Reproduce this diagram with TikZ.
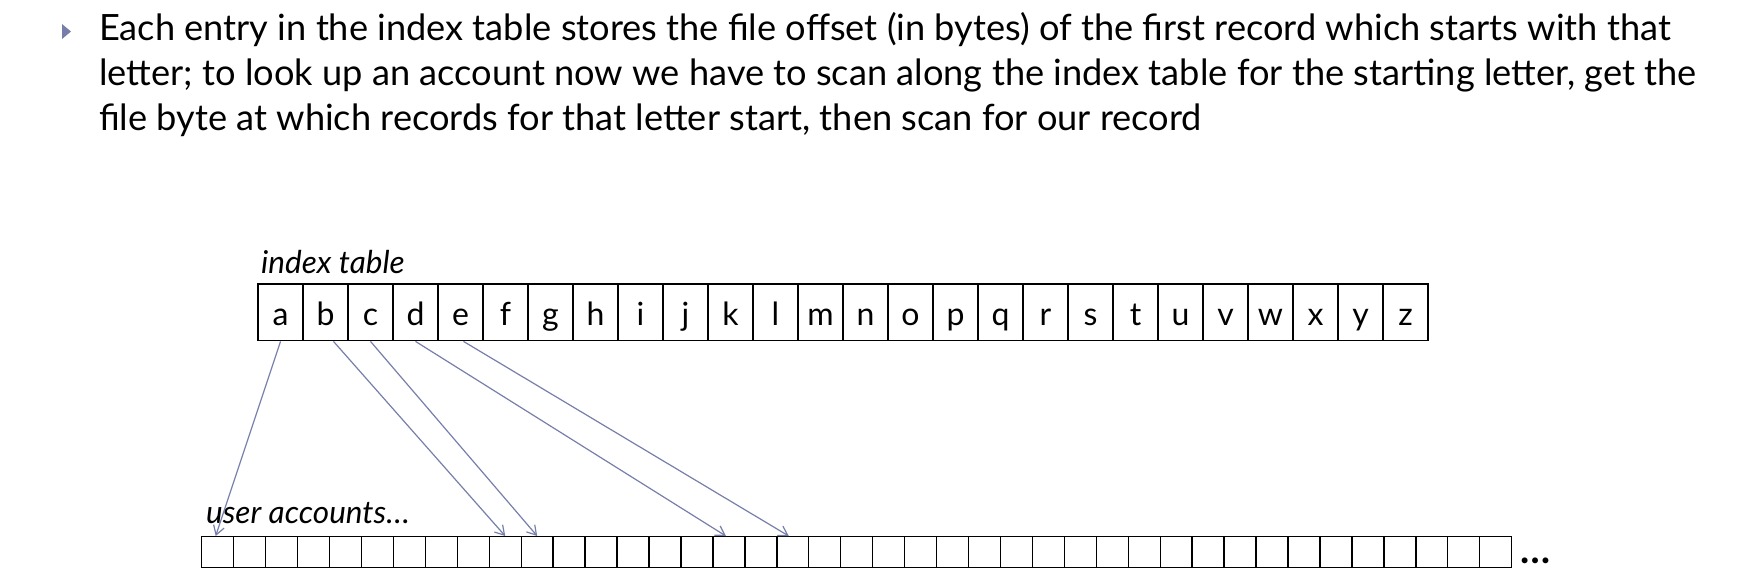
\documentclass[tikz,border=0pt]{standalone}
\usepackage{fontspec}
\setmainfont{Lato}
\usetikzlibrary{arrows.meta,calc}
\definecolor{slate}{RGB}{118,127,170}
\begin{document}
\begin{tikzpicture}[x=1pt,y=-1pt,
  body/.style={anchor=base west, inner sep=0pt, font=\fontsize{36.2}{40}\selectfont},
  lbl/.style={anchor=base west, inner sep=0pt, font=\fontsize{31.5}{34}\selectfont\itshape},
  idxcell/.style={draw, line width=1.4pt, minimum width=45pt, minimum height=56.7pt,
    inner sep=0pt, text height=28pt, text depth=1.4pt, anchor=north west,
    font=\fontsize{32}{32}\selectfont},
  ucell/.style={draw, line width=1.4pt, minimum width=31.95pt, minimum height=30.7pt,
    inner sep=0pt, anchor=north west},
  link/.style={draw=slate, line width=1.2pt, -{Straight Barb[length=9pt,width=11pt]}}]
\useasboundingbox (0,0) rectangle (1764,582);
% bullet
\fill[slate] (62,24) -- (71,31.5) -- (62,39) -- cycle;
\node[body] (l1) at (99,40) {Each entry in the index table stores the file offset (in bytes) of the first record which starts with that};
\node[body] (l2) at (99,85) {letter; to look up an account now we have to scan along the index table for the starting letter, get the};
\node[body] (l3) at (99,130) {file byte at which records for that letter start, then scan for our record};
% index table
\node[lbl] (itl) at (261,273) {index table};
\foreach \c [count=\i from 0] in {a,b,c,d,e,f,g,h,i,j,k,l,m,n,o,p,q,r,s,t,u,v,w,x,y,z}
  \node[idxcell] (i\c) at (257.3+45*\i,283.3) {\c};
% user accounts
\node[lbl] (ual) at (206,523) {user accounts\ldots};
\foreach \k in {1,...,41}
  \node[ucell] (u\k) at (201+31.95*\k-31.95,536) {};
\node[anchor=base west, inner sep=0pt, font=\fontsize{39}{40}\selectfont\bfseries] (dots) at (1520,563) {\ldots};
% arrows
\draw[link] (ia.south) -- ($(u1.north)+(-2,0)$);
\draw[link] ($(ib.south)+(8,0)$) -- (u10.north);
\draw[link] (ic.south) -- (u11.north);
\draw[link] (id.south) -- ($(u17.north)+(-3,0)$);
\draw[link] ($(ie.south)+(3,0)$) -- ($(u19.north)+(-4,0)$);
\end{tikzpicture}
\end{document}
